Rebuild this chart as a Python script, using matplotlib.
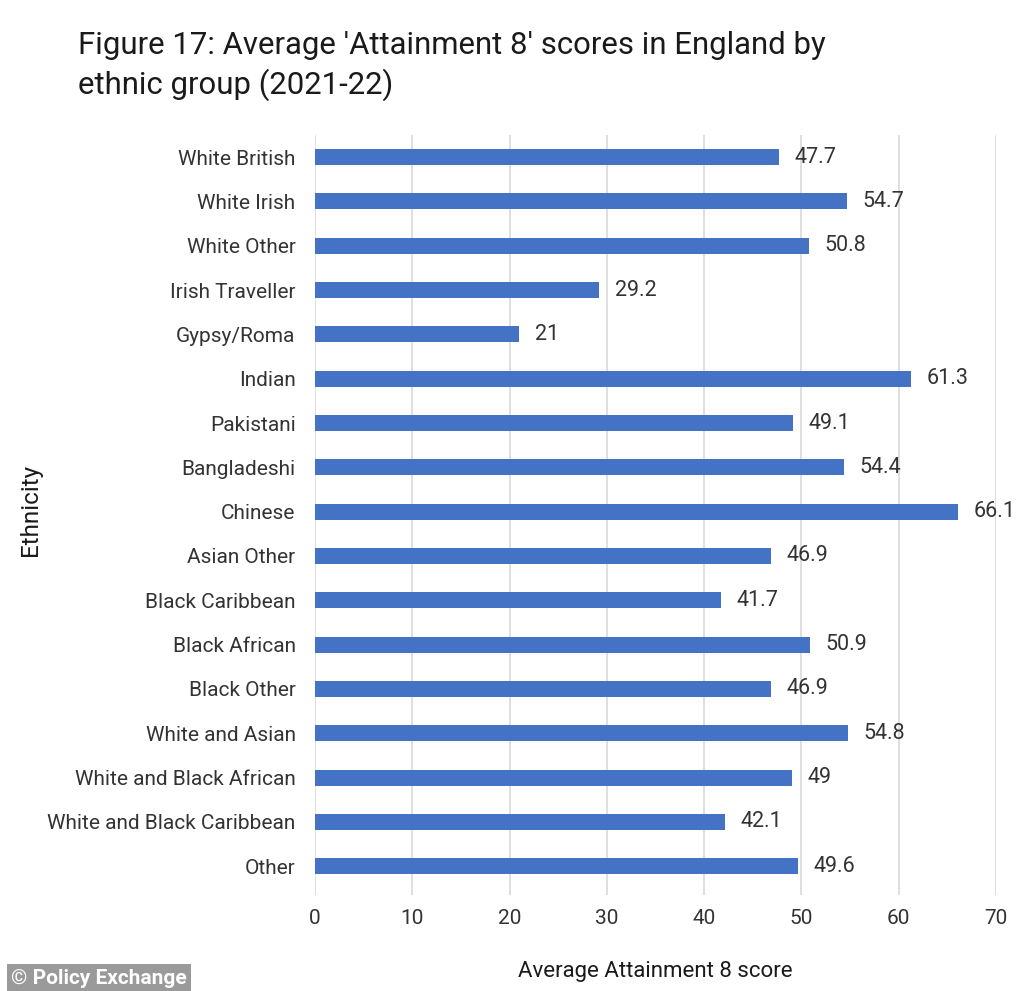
import matplotlib
matplotlib.use("Agg")
import matplotlib.pyplot as plt

categories = ["White British", "White Irish", "White Other", "Irish Traveller", "Gypsy/Roma",
              "Indian", "Pakistani", "Bangladeshi", "Chinese", "Asian Other",
              "Black Caribbean", "Black African", "Black Other", "White and Asian",
              "White and Black African", "White and Black Caribbean", "Other"]
values = [47.7, 54.7, 50.8, 29.2, 21, 61.3, 49.1, 54.4, 66.1, 46.9,
          41.7, 50.9, 46.9, 54.8, 49, 42.1, 49.6]
value_labels = ["47.7", "54.7", "50.8", "29.2", "21", "61.3", "49.1", "54.4", "66.1", "46.9",
                "41.7", "50.9", "46.9", "54.8", "49", "42.1", "49.6"]
xticks = [0, 10, 20, 30, 40, 50, 60, 70]

plt.rcParams['font.family'] = ['Roboto', 'DejaVu Sans']

fig = plt.figure(figsize=(10.24, 9.91), dpi=100)
ax = fig.add_axes([315/1024, 1-895/991, (996-315)/1024, (895-135)/991])

ypos = list(range(len(categories)))
ax.barh(ypos, values, height=0.36, color="#4472C4", zorder=3)
for y, v, s in zip(ypos, values, value_labels):
    ax.text(v + 1.6, y, s, va="center", ha="left", fontsize=15.5, color="#333333")

ax.set_ylim(16.65, -0.5)
ax.set_xlim(0, 70)
ax.set_xticks(xticks)
ax.set_yticks(ypos)
ax.set_yticklabels(categories)
ax.tick_params(axis="both", length=0, labelsize=15, labelcolor="#333333")
ax.tick_params(axis="x", pad=10)
ax.tick_params(axis="y", pad=14)
ax.grid(axis="x", color="#d9d9d9", linewidth=1.2, zorder=0)
for s in ax.spines.values():
    s.set_visible(False)

ax.set_xlabel("Average Attainment 8 score", fontsize=16, color="#1a1a1a", labelpad=24)
fig.text(30/1024, 1-510/991, "Ethnicity", rotation=90, va="center", ha="center",
         fontsize=17.5, color="#1a1a1a")

fig.text(78/1024, 1-45/991, "Figure 17: Average 'Attainment 8' scores in England by",
         fontsize=22.4, color="#1a1a1a", va="center", ha="left")
fig.text(78/1024, 1-85/991, "ethnic group (2021-22)",
         fontsize=22.4, color="#1a1a1a", va="center", ha="left")

fig.text(11/1024, 1-978/991, "© Policy Exchange", fontsize=15, fontweight="bold",
         color="white", va="center", ha="left",
         bbox=dict(boxstyle="square,pad=0.2", facecolor="#9a9a9a", edgecolor="none"))

fig.savefig("out.png", dpi=100)
